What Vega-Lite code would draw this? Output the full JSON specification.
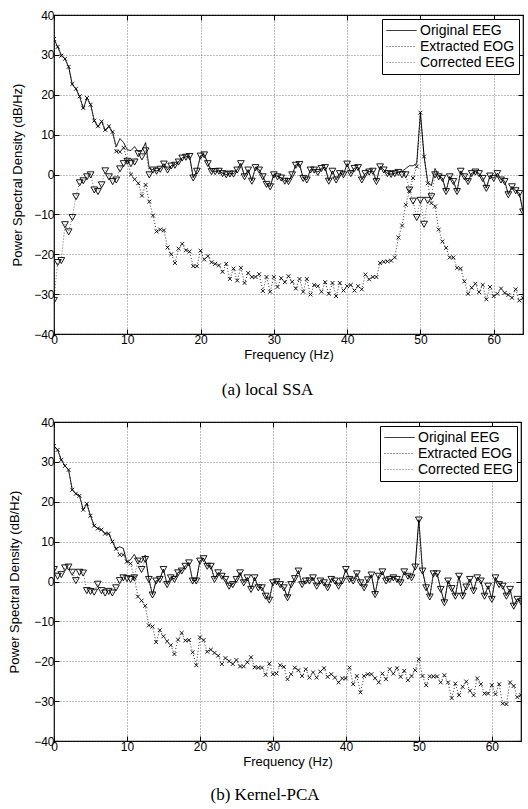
{
"$schema":"https://vega.github.io/schema/vega-lite/v6.json",
"padding":{"left":8,"top":8,"right":0,"bottom":0},
"spacing":16,
"config":{"font":"Liberation Sans","view":{"stroke":"black","strokeWidth":1.2},
"axis":{"labelColor":"black","titleColor":"black","tickColor":"black","labelFontSize":12,"titleFontSize":13,"titleFontWeight":"normal","labelFont":"Liberation Sans","titleFont":"Liberation Sans"}},
"datasets":{
"a":[
{"f":0,"o":34,"e":34,"c":-31.5},{"f":0.5,"o":32,"e":32,"c":-22},{"f":1,"o":30,"e":29.8,"c":-21.5},{"f":1.5,"o":29,"e":29,"c":-12.5},{"f":2,"o":27,"e":27,"c":-14.3},{"f":2.5,"o":22.5,"e":22.7,"c":-10.7},{"f":3,"o":21.5,"e":21.5,"c":-5.5},{"f":3.5,"o":19.5,"e":19.6,"c":-2},{"f":4,"o":16.5,"e":16.7,"c":-1.5},{"f":4.5,"o":19.2,"e":19.2,"c":-0.5},{"f":5,"o":17.5,"e":17.5,"c":0},{"f":5.5,"o":13.5,"e":13.5,"c":-3.8},{"f":6,"o":12,"e":12.1,"c":-4.2},{"f":6.5,"o":13.3,"e":13.3,"c":-2.5},{"f":7,"o":11,"e":11.2,"c":1},{"f":7.5,"o":12,"e":12.1,"c":-0.5},{"f":8,"o":10.5,"e":10.7,"c":-1.7},{"f":8.5,"o":7,"e":5.8,"c":-1.3},{"f":9,"o":9,"e":5.7,"c":1.5},{"f":9.5,"o":8,"e":6.7,"c":2.8},{"f":10,"o":6.2,"e":3.5,"c":3.4},{"f":10.5,"o":6,"e":0,"c":2.8},{"f":11,"o":7,"e":-1.2,"c":3.2},{"f":11.5,"o":5.7,"e":-2.2,"c":5.3},{"f":12,"o":6,"e":-5.3,"c":4.5},{"f":12.5,"o":8,"e":-2.6,"c":6},{"f":13,"o":1.5,"e":-6.8,"c":0},{"f":13.5,"o":1.2,"e":-10.3,"c":1.2},{"f":14,"o":0.9,"e":-14.3,"c":0.9},{"f":14.5,"o":1.4,"e":-13.8,"c":1.4},{"f":15,"o":2.7,"e":-14,"c":2.7},{"f":15.5,"o":1.2,"e":-18.3,"c":1.2},{"f":16,"o":2.2,"e":-20,"c":2.2},{"f":16.5,"o":2.4,"e":-22.2,"c":2.4},{"f":17,"o":3.2,"e":-18.6,"c":3.2},{"f":17.5,"o":4.2,"e":-17.4,"c":4.2},{"f":18,"o":4.4,"e":-19,"c":4.4},{"f":18.5,"o":4.6,"e":-19.3,"c":4.6},{"f":19,"o":-0.8,"e":-23,"c":-0.8},{"f":19.5,"o":0.9,"e":-23,"c":0.9},{"f":20,"o":4.7,"e":-19.1,"c":4.7},{"f":20.5,"o":5,"e":-21.3,"c":5},{"f":21,"o":2.8,"e":-20.5,"c":2.8},{"f":21.5,"o":0.8,"e":-22,"c":0.8},{"f":22,"o":0.8,"e":-22.4,"c":0.8},{"f":22.5,"o":0.9,"e":-22.8,"c":0.9},{"f":23,"o":0.3,"e":-24.4,"c":0.3},{"f":23.5,"o":0,"e":-22.4,"c":0},{"f":24,"o":0.2,"e":-26.2,"c":0.2},{"f":24.5,"o":0.2,"e":-23.6,"c":0.2},{"f":25,"o":1.2,"e":-26.6,"c":1.2},{"f":25.5,"o":2.8,"e":-23.4,"c":2.8},{"f":26,"o":-0.5,"e":-27.2,"c":-0.5},{"f":26.5,"o":1.2,"e":-24.7,"c":1.2},{"f":27,"o":-1.6,"e":-25.7,"c":-1.6},{"f":27.5,"o":1.8,"e":-25.7,"c":1.8},{"f":28,"o":1.2,"e":-25,"c":1.2},{"f":28.5,"o":-0.5,"e":-29.2,"c":-0.5},{"f":29,"o":-2.4,"e":-25.7,"c":-2.4},{"f":29.5,"o":-3,"e":-29.4,"c":-3},{"f":30,"o":0,"e":-25.7,"c":0},{"f":30.5,"o":-0.5,"e":-28.2,"c":-0.5},{"f":31,"o":-0.8,"e":-26,"c":-0.8},{"f":31.5,"o":-1.6,"e":-27,"c":-1.6},{"f":32,"o":-1.7,"e":-25.5,"c":-1.7},{"f":32.5,"o":0,"e":-26.9,"c":0},{"f":33,"o":2.4,"e":-28.6,"c":2.4},{"f":33.5,"o":2.6,"e":-26.2,"c":2.6},{"f":34,"o":-0.9,"e":-29.4,"c":-0.9},{"f":34.5,"o":-1.3,"e":-26.2,"c":-1.3},{"f":35,"o":1.2,"e":-30.1,"c":1.2},{"f":35.5,"o":1.2,"e":-27.7,"c":1.2},{"f":36,"o":0.6,"e":-28,"c":0.6},{"f":36.5,"o":1.6,"e":-29.4,"c":1.6},{"f":37,"o":1.8,"e":-27,"c":1.8},{"f":37.5,"o":-1.6,"e":-29.9,"c":-1.6},{"f":38,"o":0.9,"e":-27.2,"c":0.9},{"f":38.5,"o":-1.3,"e":-30.5,"c":-1.3},{"f":39,"o":0.3,"e":-27.2,"c":0.3},{"f":39.5,"o":0,"e":-29.1,"c":0},{"f":40,"o":2.7,"e":-28,"c":2.7},{"f":40.5,"o":0.3,"e":-27.7,"c":0.3},{"f":41,"o":1.6,"e":-29.1,"c":1.6},{"f":41.5,"o":1.8,"e":-28,"c":1.8},{"f":42,"o":-1.3,"e":-28.8,"c":-1.3},{"f":42.5,"o":0.3,"e":-25.1,"c":0.3},{"f":43,"o":0.7,"e":-26.3,"c":0.7},{"f":43.5,"o":0.9,"e":-25.7,"c":0.9},{"f":44,"o":-1.7,"e":-25.7,"c":-1.7},{"f":44.5,"o":2,"e":-22.2,"c":2},{"f":45,"o":1.2,"e":-21.9,"c":1.2},{"f":45.5,"o":0.3,"e":-21.8,"c":0.3},{"f":46,"o":0.1,"e":-21.6,"c":0.1},{"f":46.5,"o":0.3,"e":-20.8,"c":0.3},{"f":47,"o":0.6,"e":-15.8,"c":0.6},{"f":47.5,"o":0.8,"e":-12.8,"c":0},{"f":48,"o":1.5,"e":-7.6,"c":0},{"f":48.5,"o":2.2,"e":-4.1,"c":-3.8},{"f":49,"o":2.2,"e":-0.9,"c":-6.6},{"f":49.5,"o":2.8,"e":2,"c":-10.7},{"f":50,"o":15.5,"e":15.5,"c":-6.4},{"f":50.5,"o":4.5,"e":4.5,"c":-12.4},{"f":51,"o":-1.8,"e":-2.2,"c":-6.4},{"f":51.5,"o":-2.8,"e":-7.2,"c":-5.5},{"f":52,"o":1.5,"e":-8,"c":0},{"f":52.5,"o":-0.5,"e":-13.8,"c":-0.5},{"f":53,"o":-0.9,"e":-16.8,"c":-0.9},{"f":53.5,"o":-4.2,"e":-18.4,"c":-4.2},{"f":54,"o":-0.5,"e":-20.8,"c":-0.5},{"f":54.5,"o":-1.7,"e":-20.8,"c":-1.7},{"f":55,"o":-4.2,"e":-23.4,"c":-4.2},{"f":55.5,"o":0.9,"e":-23.6,"c":0.9},{"f":56,"o":-0.5,"e":-26.8,"c":-0.5},{"f":56.5,"o":-1.7,"e":-29.9,"c":-1.7},{"f":57,"o":0.3,"e":-28.4,"c":0.3},{"f":57.5,"o":0.7,"e":-27.4,"c":0.7},{"f":58,"o":0.3,"e":-29.5,"c":0.3},{"f":58.5,"o":-0.9,"e":-27.7,"c":-0.9},{"f":59,"o":-3.4,"e":-31.3,"c":-3.4},{"f":59.5,"o":-0.3,"e":-28.2,"c":-0.3},{"f":60,"o":-0.9,"e":-30.5,"c":-0.9},{"f":60.5,"o":0.3,"e":-29.9,"c":0.3},{"f":61,"o":-1.3,"e":-28.6,"c":-1.3},{"f":61.5,"o":-1.7,"e":-29.7,"c":-1.7},{"f":62,"o":-5,"e":-30.2,"c":-5},{"f":62.5,"o":-3,"e":-30.9,"c":-3},{"f":63,"o":-4,"e":-28.8,"c":-4},{"f":63.5,"o":-4.7,"e":-31.6,"c":-4.7},{"f":64,"o":-9.3,"e":-31,"c":-9.3}
],
"b":[
{"f":0,"o":34,"e":34,"c":3.1},{"f":0.5,"o":33,"e":33,"c":1.4},{"f":1,"o":30.5,"e":30.5,"c":1.8},{"f":1.5,"o":29,"e":29,"c":3.5},{"f":2,"o":28,"e":28,"c":3.7},{"f":2.5,"o":23,"e":23,"c":2.4},{"f":3,"o":22,"e":22,"c":0.3},{"f":3.5,"o":21.5,"e":21.5,"c":2.4},{"f":4,"o":18,"e":18,"c":2.2},{"f":4.5,"o":19.5,"e":19.5,"c":-2.2},{"f":5,"o":16.5,"e":16.5,"c":-2.4},{"f":5.5,"o":14,"e":14,"c":-2.6},{"f":6,"o":13.3,"e":13.3,"c":-0.6},{"f":6.5,"o":13,"e":13,"c":-2.2},{"f":7,"o":12,"e":12,"c":-2.8},{"f":7.5,"o":12,"e":12,"c":-2.4},{"f":8,"o":10,"e":10,"c":-2.8},{"f":8.5,"o":8.2,"e":8.2,"c":-1.5},{"f":9,"o":8.7,"e":6.7,"c":0.3},{"f":9.5,"o":8.3,"e":6.7,"c":1},{"f":10,"o":4.8,"e":5,"c":0.8},{"f":10.5,"o":5.5,"e":4.5,"c":0.6},{"f":11,"o":6.8,"e":1,"c":1},{"f":11.5,"o":5.2,"e":-3.8,"c":5.2},{"f":12,"o":4.8,"e":-4.8,"c":3.1},{"f":12.5,"o":6.6,"e":-6.1,"c":5.6},{"f":13,"o":0.6,"e":-11,"c":0.6},{"f":13.5,"o":-3.3,"e":-11.3,"c":-3.3},{"f":14,"o":0.2,"e":-15.2,"c":0.2},{"f":14.5,"o":0.6,"e":-12.2,"c":0.6},{"f":15,"o":3.1,"e":-13.75,"c":3.1},{"f":15.5,"o":-0.7,"e":-15,"c":-0.7},{"f":16,"o":1,"e":-16,"c":1},{"f":16.5,"o":0.6,"e":-18.2,"c":0.6},{"f":17,"o":2.25,"e":-14.6,"c":2.25},{"f":17.5,"o":2.7,"e":-12.9,"c":2.7},{"f":18,"o":3.9,"e":-14.8,"c":3.9},{"f":18.5,"o":4.75,"e":-14.7,"c":4.75},{"f":19,"o":0.2,"e":-17.75,"c":0.2},{"f":19.5,"o":0.2,"e":-21,"c":0.2},{"f":20,"o":5.2,"e":-14,"c":5.2},{"f":20.5,"o":5.8,"e":-14.7,"c":5.8},{"f":21,"o":3.9,"e":-17.6,"c":3.9},{"f":21.5,"o":3.9,"e":-17.1,"c":3.9},{"f":22,"o":0.6,"e":-17.9,"c":0.6},{"f":22.5,"o":2.25,"e":-18.6,"c":2.25},{"f":23,"o":1.4,"e":-20.7,"c":1.4},{"f":23.5,"o":0.6,"e":-19.2,"c":0.6},{"f":24,"o":-1.1,"e":-20,"c":-1.1},{"f":24.5,"o":-0.7,"e":-20.7,"c":-0.7},{"f":25,"o":0.6,"e":-19.7,"c":0.6},{"f":25.5,"o":2.25,"e":-21.3,"c":2.25},{"f":26,"o":-0.25,"e":-21.3,"c":-0.25},{"f":26.5,"o":1,"e":-20.25,"c":1},{"f":27,"o":-1.9,"e":-19,"c":-1.9},{"f":27.5,"o":1,"e":-21.5,"c":1},{"f":28,"o":-1.5,"e":-21.6,"c":-1.5},{"f":28.5,"o":-1.5,"e":-21.6,"c":-1.5},{"f":29,"o":-3.6,"e":-23.4,"c":-3.6},{"f":29.5,"o":-4.6,"e":-20.6,"c":-4.6},{"f":30,"o":-0.25,"e":-23.25,"c":-0.25},{"f":30.5,"o":0,"e":-23.1,"c":0},{"f":31,"o":-0.7,"e":-21,"c":-0.7},{"f":31.5,"o":-1.5,"e":-21.4,"c":-1.5},{"f":32,"o":-4,"e":-24.5,"c":-4},{"f":32.5,"o":-0.7,"e":-23.25,"c":-0.7},{"f":33,"o":0.8,"e":-21.6,"c":0.8},{"f":33.5,"o":2.7,"e":-22.25,"c":2.7},{"f":34,"o":-0.7,"e":-23.7,"c":-0.7},{"f":34.5,"o":0.2,"e":-22,"c":0.2},{"f":35,"o":0.2,"e":-24.1,"c":0.2},{"f":35.5,"o":1,"e":-22.8,"c":1},{"f":36,"o":-1.1,"e":-24.1,"c":-1.1},{"f":36.5,"o":0.2,"e":-22.6,"c":0.2},{"f":37,"o":-0.25,"e":-21.75,"c":-0.25},{"f":37.5,"o":-1.5,"e":-23.9,"c":-1.5},{"f":38,"o":0.6,"e":-23.25,"c":0.6},{"f":38.5,"o":0.2,"e":-24.1,"c":0.2},{"f":39,"o":-1.1,"e":-25.3,"c":-1.1},{"f":39.5,"o":0.2,"e":-24.3,"c":0.2},{"f":40,"o":3.1,"e":-24.3,"c":3.1},{"f":40.5,"o":0.6,"e":-21.6,"c":0.6},{"f":41,"o":0.2,"e":-25.75,"c":0.2},{"f":41.5,"o":2,"e":-23.7,"c":2},{"f":42,"o":-0.25,"e":-27.8,"c":-0.25},{"f":42.5,"o":-1.5,"e":-23.7,"c":-1.5},{"f":43,"o":0.5,"e":-23.25,"c":0.5},{"f":43.5,"o":1.7,"e":-23.25,"c":1.7},{"f":44,"o":-3.2,"e":-24.25,"c":-3.2},{"f":44.5,"o":1.4,"e":-25.3,"c":1.4},{"f":45,"o":2.5,"e":-23.1,"c":2.5},{"f":45.5,"o":0.2,"e":-24.5,"c":0.2},{"f":46,"o":0.6,"e":-22,"c":0.6},{"f":46.5,"o":1,"e":-23.1,"c":1},{"f":47,"o":0.6,"e":-21.75,"c":0.6},{"f":47.5,"o":-0.25,"e":-23.9,"c":-0.25},{"f":48,"o":2.5,"e":-22.4,"c":2.5},{"f":48.5,"o":1.4,"e":-24.75,"c":1.4},{"f":49,"o":1,"e":-23.7,"c":1},{"f":49.5,"o":3.7,"e":-22.25,"c":3.7},{"f":50,"o":15.5,"e":-19.5,"c":15.5},{"f":50.5,"o":2.7,"e":-23.7,"c":2.7},{"f":51,"o":-1.5,"e":-26,"c":-1.5},{"f":51.5,"o":-3.8,"e":-23.8,"c":-3.8},{"f":52,"o":2,"e":-23.8,"c":2},{"f":52.5,"o":2,"e":-23.8,"c":2},{"f":53,"o":-1.9,"e":-25.3,"c":-1.9},{"f":53.5,"o":-5.25,"e":-23.5,"c":-5.25},{"f":54,"o":0.2,"e":-25.3,"c":0.2},{"f":54.5,"o":-1.7,"e":-29.25,"c":-1.7},{"f":55,"o":-3.6,"e":-25.6,"c":-3.6},{"f":55.5,"o":1.4,"e":-28.5,"c":1.4},{"f":56,"o":-3.6,"e":-26.4,"c":-3.6},{"f":56.5,"o":-1.3,"e":-25.1,"c":-1.3},{"f":57,"o":0.6,"e":-27.4,"c":0.6},{"f":57.5,"o":-2.3,"e":-28.5,"c":-2.3},{"f":58,"o":1,"e":-24.3,"c":1},{"f":58.5,"o":0.2,"e":-25.75,"c":0.2},{"f":59,"o":-3.6,"e":-28.1,"c":-3.6},{"f":59.5,"o":-1.1,"e":-28.1,"c":-1.1},{"f":60,"o":-4.4,"e":-26,"c":-4.4},{"f":60.5,"o":1,"e":-28.25,"c":1},{"f":61,"o":-0.7,"e":-25.75,"c":-0.7},{"f":61.5,"o":-1.1,"e":-30.6,"c":-1.1},{"f":62,"o":-3.6,"e":-30.75,"c":-3.6},{"f":62.5,"o":-1.9,"e":-25.3,"c":-1.9},{"f":63,"o":-6.1,"e":-26.2,"c":-6.1},{"f":63.5,"o":-4.4,"e":-29,"c":-4.4},{"f":64,"o":-5,"e":-28.5,"c":-5}
]},
"resolve":{"scale":{"strokeDash":"independent","shape":"independent","strokeWidth":"independent","size":"independent"},"legend":{"strokeDash":"independent"}},
"vconcat":[
{
"width":469,"height":319,
"data":{"name":"a"},
"transform":[{"fold":["o","e","c"],"as":["s","v"]}],
"title":{"text":"(a)  local SSA","orient":"bottom","font":"Liberation Serif","fontSize":17,"fontWeight":"normal","anchor":"middle","frame":"bounds","offset":21,"color":"black"},
"resolve":{"axis":{"x":"independent","y":"independent"}},
"layer":[
{"mark":{"type":"line","color":"black","clip":true},
"encoding":{
"x":{"field":"f","type":"quantitative","scale":{"domain":[0,64],"nice":false},"axis":{"values":[0,10,20,30,40,50,60],"grid":true,"gridDash":[1,2],"gridColor":"#444","gridWidth":0.7,"tickSize":-5,"domain":false,"labelPadding":5,"title":"Frequency (Hz)","titlePadding":3,"labelFlush":false}},
"y":{"field":"v","type":"quantitative","scale":{"domain":[-40,40],"nice":false},"axis":{"values":[-40,-30,-20,-10,0,10,20,30,40],"grid":true,"gridDash":[1,2],"gridColor":"#444","gridWidth":0.7,"tickSize":-5,"domain":false,"labelPadding":5,"title":"Power Spectral Density (dB/Hz)","titlePadding":9}},
"strokeDash":{"field":"s","type":"nominal","scale":{"domain":["o","e","c"],"range":[[1,0],[1,2],[1,2]]},
"legend":{"title":null,"orient":"top-right","offset":4,"strokeColor":"black","fillColor":"white","padding":4,"cornerRadius":0,"symbolSize":900,"clipHeight":15,"labelFontSize":14,"labelColor":"black","labelOffset":3,"rowPadding":1,
"labelExpr":"datum.label == 'o' ? 'Original EEG' : datum.label == 'e' ? 'Extracted EOG' : 'Corrected EEG'",
"encode":{"symbols":{
"shape":{"value":{"expr":"datum.value == 'o' ? 'M-0.67,0H0.67' : datum.value == 'e' ? 'M-1,0h0.07M-0.8,0h0.07M-0.6,0h0.07M-0.4,0h0.07M-0.13,-0.13L0.13,0.13M-0.13,0.13L0.13,-0.13M0.33,0h0.07M0.53,0h0.07M0.73,0h0.07M0.93,0h0.07' : 'M-1,0h0.07M-0.8,0h0.07M-0.6,0h0.07M-0.4,0h0.07M-0.18,-0.13L0.18,-0.13L0,0.18ZM0.33,0h0.07M0.53,0h0.07M0.73,0h0.07M0.93,0h0.07'"}},
"strokeDash":{"value":[]},"stroke":{"value":"black"},"strokeWidth":{"value":0.9},"fill":{"value":"transparent"}}}}},
"strokeWidth":{"field":"s","type":"nominal","scale":{"domain":["o","e","c"],"range":[1,0.6,0.6]},"legend":null}
}},
{"transform":[{"filter":"datum.s != 'o'"}],
"mark":{"type":"point","filled":false,"color":"black","strokeWidth":0.9,"opacity":1,"clip":true},
"encoding":{
"x":{"field":"f","type":"quantitative","scale":{"domain":[0,64],"nice":false},"axis":{"orient":"top","values":[0,10,20,30,40,50,60],"labels":false,"grid":false,"tickSize":-5,"domain":false,"title":null}},
"y":{"field":"v","type":"quantitative","scale":{"domain":[-40,40],"nice":false},"axis":{"orient":"right","values":[-40,-30,-20,-10,0,10,20,30,40],"labels":false,"grid":false,"tickSize":-5,"domain":false,"title":null}},
"shape":{"field":"s","type":"nominal","scale":{"domain":["e","c"],"range":["M-1,-1L1,1M-1,1L1,-1","M-1,-0.8L1,-0.8L0,1Z"]},"legend":null},
"size":{"field":"s","type":"nominal","scale":{"domain":["e","c"],"range":[15,45]},"legend":null}
}}
]},
{
"width":467,"height":319,
"data":{"name":"b"},
"transform":[{"fold":["o","e","c"],"as":["s","v"]}],
"title":{"text":"(b)  Kernel-PCA","orient":"bottom","font":"Liberation Serif","fontSize":17,"fontWeight":"normal","anchor":"middle","frame":"bounds","offset":19,"color":"black"},
"resolve":{"axis":{"x":"independent","y":"independent"}},
"layer":[
{"mark":{"type":"line","color":"black","clip":true},
"encoding":{
"x":{"field":"f","type":"quantitative","scale":{"domain":[0,64],"nice":false},"axis":{"values":[0,10,20,30,40,50,60],"grid":true,"gridDash":[1,2],"gridColor":"#444","gridWidth":0.7,"tickSize":-5,"domain":false,"labelPadding":5,"title":"Frequency (Hz)","titlePadding":3,"labelFlush":false}},
"y":{"field":"v","type":"quantitative","scale":{"domain":[-40,40],"nice":false},"axis":{"values":[-40,-30,-20,-10,0,10,20,30,40],"grid":true,"gridDash":[1,2],"gridColor":"#444","gridWidth":0.7,"tickSize":-5,"domain":false,"labelPadding":5,"title":"Power Spectral Density (dB/Hz)","titlePadding":12}},
"strokeDash":{"field":"s","type":"nominal","scale":{"domain":["o","e","c"],"range":[[1,0],[1,2],[1,2]]},
"legend":{"title":null,"orient":"top-right","offset":4,"strokeColor":"black","fillColor":"white","padding":4,"cornerRadius":0,"symbolSize":900,"clipHeight":15,"labelFontSize":14,"labelColor":"black","labelOffset":3,"rowPadding":1,
"labelExpr":"datum.label == 'o' ? 'Original EEG' : datum.label == 'e' ? 'Extracted EOG' : 'Corrected EEG'",
"encode":{"symbols":{
"shape":{"value":{"expr":"datum.value == 'o' ? 'M-0.67,0H0.67' : datum.value == 'e' ? 'M-1,0h0.07M-0.8,0h0.07M-0.6,0h0.07M-0.4,0h0.07M-0.13,-0.13L0.13,0.13M-0.13,0.13L0.13,-0.13M0.33,0h0.07M0.53,0h0.07M0.73,0h0.07M0.93,0h0.07' : 'M-1,0h0.07M-0.8,0h0.07M-0.6,0h0.07M-0.4,0h0.07M-0.18,-0.13L0.18,-0.13L0,0.18ZM0.33,0h0.07M0.53,0h0.07M0.73,0h0.07M0.93,0h0.07'"}},
"strokeDash":{"value":[]},"stroke":{"value":"black"},"strokeWidth":{"value":0.9},"fill":{"value":"transparent"}}}}},
"strokeWidth":{"field":"s","type":"nominal","scale":{"domain":["o","e","c"],"range":[1,0.6,0.6]},"legend":null}
}},
{"transform":[{"filter":"datum.s != 'o'"}],
"mark":{"type":"point","filled":false,"color":"black","strokeWidth":0.9,"opacity":1,"clip":true},
"encoding":{
"x":{"field":"f","type":"quantitative","scale":{"domain":[0,64],"nice":false},"axis":{"orient":"top","values":[0,10,20,30,40,50,60],"labels":false,"grid":false,"tickSize":-5,"domain":false,"title":null}},
"y":{"field":"v","type":"quantitative","scale":{"domain":[-40,40],"nice":false},"axis":{"orient":"right","values":[-40,-30,-20,-10,0,10,20,30,40],"labels":false,"grid":false,"tickSize":-5,"domain":false,"title":null}},
"shape":{"field":"s","type":"nominal","scale":{"domain":["e","c"],"range":["M-1,-1L1,1M-1,1L1,-1","M-1,-0.8L1,-0.8L0,1Z"]},"legend":null},
"size":{"field":"s","type":"nominal","scale":{"domain":["e","c"],"range":[15,45]},"legend":null}
}}
]}
]}
